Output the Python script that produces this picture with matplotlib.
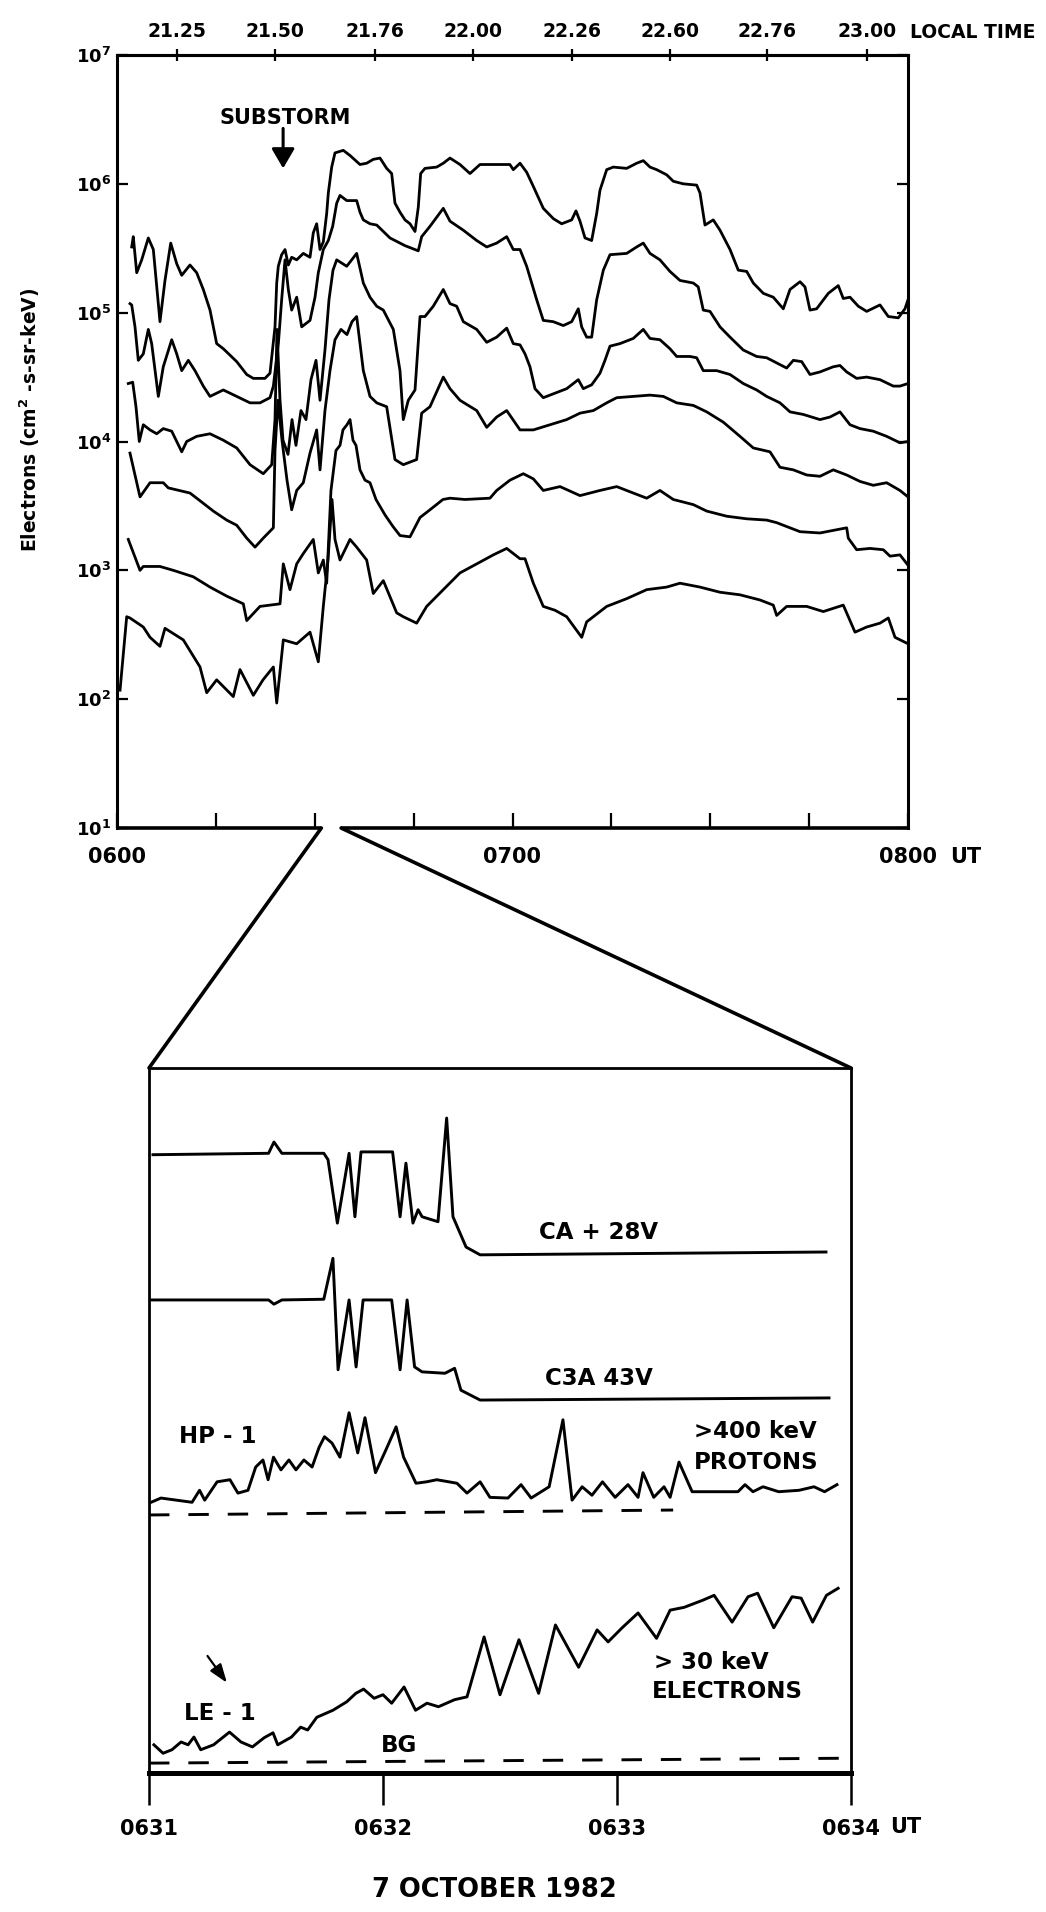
import matplotlib
matplotlib.use('Agg')
import matplotlib.pyplot as plt
import numpy as np
from matplotlib.patches import ConnectionPatch
from matplotlib.ticker import FixedLocator, NullLocator
import matplotlib.transforms as mtransforms

plt.rcParams['font.family'] = ['DejaVu Sans']
plt.rcParams['font.weight'] = 'bold'
plt.rcParams['mathtext.default'] = 'bf'

# ---------------- DATA : top panel (minutes after 0600 UT, log10 flux) ----------------
c1_t = [2.23,2.47,2.99,3.75,4.75,5.51,6.52,7.28,8.15,9.06,9.82,11.07,12.09,13.09,14.11,15.12,16.13,18.16,19.68,20.68,22.45,23.21,23.97,24.23,24.47,24.98,25.49,25.99,26.50,27.26,28.26,29.28,29.78,30.29,30.80,31.30,31.81,32.06,32.57,33.07,34.33,35.35,36.86,37.88,38.88,39.90,40.91,41.67,42.17,42.93,43.69,44.45,45.21,45.71,46.07,46.72,48.50,49.50,50.52,52.03,53.55,55.07,57.09,59.60,60.12,61.14,62.15,63.16,64.67,66.19,67.46,68.98,69.63,70.24,71.00,72.01,72.77,73.27,74.29,75.29,77.32,78.84,79.84,80.86,81.87,83.39,84.39,85.91,87.94,88.44,89.20,90.46,91.48,93.00,94.25,95.53,96.53,98.05,99.56,101.08,102.10,103.62,104.37,105.13,106.14,107.91,109.42,110.18,111.20,112.46,113.73,115.75,117.01,118.53,119.54,120.0]
c1_L = [5.51,5.59,5.31,5.41,5.58,5.49,4.93,5.25,5.54,5.38,5.29,5.37,5.31,5.18,5.02,4.76,4.72,4.62,4.52,4.49,4.49,4.53,4.89,5.23,5.36,5.45,5.49,5.37,5.43,5.41,5.46,5.43,5.62,5.69,5.49,5.55,5.77,5.93,6.13,6.24,6.26,6.22,6.15,6.16,6.19,6.20,6.12,6.08,5.85,5.78,5.72,5.69,5.63,5.82,6.08,6.12,6.13,6.16,6.20,6.15,6.08,6.15,6.15,6.15,6.11,6.16,6.09,5.98,5.81,5.73,5.69,5.72,5.79,5.71,5.58,5.56,5.77,5.95,6.11,6.13,6.12,6.16,6.18,6.13,6.11,6.07,6.02,6.00,5.99,5.93,5.68,5.72,5.64,5.49,5.33,5.32,5.23,5.15,5.12,5.03,5.18,5.24,5.20,5.02,5.03,5.15,5.21,5.11,5.12,5.05,5.01,5.06,4.97,4.96,5.03,5.10]

c2_t = [1.97,2.23,2.73,3.23,3.99,4.75,5.26,6.27,7.02,8.30,9.06,9.82,10.82,11.83,13.09,14.11,16.13,18.16,20.18,21.69,23.21,23.72,24.48,24.98,25.49,25.99,26.50,27.26,28.02,29.28,30.04,30.54,31.30,32.06,32.72,33.33,33.83,34.85,36.36,36.86,37.37,38.38,39.40,41.41,43.7,45.7,46.22,47.48,49.50,50.52,52.54,54.57,56.09,57.60,59.12,60.12,61.14,62.15,62.91,63.67,64.67,66.19,67.71,68.98,69.98,70.49,71.25,72.01,72.77,73.78,74.79,77.32,78.84,79.84,80.86,82.37,83.89,85.41,87.43,88.18,88.94,89.96,91.48,93.00,95.01,97.04,98.56,100.08,101.59,102.60,103.87,105.13,106.65,108.66,109.68,110.70,112.21,113.73,115.75,117.77,118.78,120.0]
c2_L = [5.07,5.06,4.89,4.63,4.68,4.87,4.76,4.35,4.58,4.79,4.68,4.55,4.63,4.55,4.43,4.35,4.40,4.35,4.30,4.30,4.34,4.43,4.76,5.10,5.41,5.18,5.02,5.12,4.89,4.94,5.12,5.31,5.49,5.56,5.67,5.85,5.91,5.87,5.87,5.78,5.72,5.69,5.68,5.58,5.52,5.48,5.59,5.67,5.81,5.71,5.64,5.56,5.51,5.54,5.59,5.49,5.49,5.36,5.23,5.10,4.94,4.93,4.90,4.93,5.03,4.89,4.81,4.81,5.10,5.33,5.45,5.46,5.51,5.54,5.46,5.41,5.32,5.25,5.23,5.20,5.02,5.01,4.89,4.81,4.71,4.66,4.65,4.61,4.57,4.63,4.62,4.52,4.54,4.58,4.59,4.54,4.49,4.50,4.48,4.43,4.43,4.45]

c3_t = [1.71,2.38,2.88,3.38,3.99,5.01,6.02,7.02,8.30,9.82,10.57,12.09,14.11,16.13,18.16,20.18,22.19,23.47,23.97,24.27,24.73,25.18,25.94,26.55,27.15,27.91,28.67,29.43,30.19,30.80,31.55,32.16,32.77,33.33,34.85,36.36,37.37,38.38,39.40,40.40,41.92,42.93,43.43,44.19,45.21,45.97,46.72,47.98,49.50,50.52,51.53,52.54,54.57,56.09,57.60,59.12,60.12,61.14,61.90,62.65,63.41,64.67,66.19,68.22,69.98,70.74,72.01,73.27,74.03,74.79,76.31,78.32,79.84,80.86,82.37,83.89,84.91,86.93,87.94,88.94,90.98,93.00,95.01,97.04,98.56,100.58,102.10,104.11,106.65,108.16,109.68,111.20,112.72,114.73,116.76,118.78,120.0]
c3_L = [4.45,4.46,4.27,4.00,4.13,4.09,4.06,4.10,4.08,3.92,4.00,4.04,4.06,4.01,3.95,3.82,3.75,3.82,4.17,4.87,4.32,4.01,3.90,4.17,3.97,4.24,4.17,4.48,4.63,4.32,4.71,5.10,5.33,5.41,5.36,5.46,5.23,5.12,5.05,5.02,4.87,4.55,4.17,4.32,4.40,4.97,4.97,5.05,5.18,5.07,5.05,4.93,4.87,4.77,4.81,4.88,4.76,4.75,4.68,4.58,4.41,4.34,4.37,4.41,4.48,4.41,4.44,4.53,4.63,4.74,4.76,4.80,4.87,4.80,4.79,4.72,4.66,4.66,4.65,4.55,4.55,4.52,4.45,4.40,4.35,4.30,4.23,4.21,4.17,4.19,4.23,4.13,4.10,4.08,4.04,3.99,4.00]

c4_t = [1.97,3.49,5.01,7.02,7.78,11.07,12.09,14.61,16.64,18.16,19.68,20.94,22.19,23.72,23.97,24.42,25.03,25.79,26.50,27.26,28.26,29.28,30.29,30.80,31.55,32.31,33.07,33.98,34.89,35.65,36.36,37.37,38.38,39.40,40.91,42.17,43.43,45.46,46.22,47.48,49.50,50.52,52.03,54.57,56.09,57.60,59.12,61.14,63.16,65.69,68.22,70.24,72.26,74.29,75.81,78.32,80.86,82.88,84.91,87.43,89.46,91.98,94.51,96.53,99.06,100.58,102.60,104.63,106.65,108.66,110.70,112.72,114.73,116.76,118.78,120.0]
c4_L = [3.91,3.57,3.68,3.68,3.64,3.60,3.56,3.46,3.39,3.35,3.25,3.18,3.25,3.33,3.93,4.32,4.01,3.70,3.47,3.62,3.68,3.91,4.09,3.78,4.24,4.55,4.79,4.87,4.83,4.93,4.97,4.55,4.35,4.30,4.27,3.86,3.82,3.86,4.22,4.27,4.50,4.41,4.32,4.24,4.11,4.19,4.24,4.09,4.09,4.13,4.17,4.22,4.24,4.30,4.34,4.35,4.36,4.35,4.30,4.28,4.23,4.15,4.04,3.95,3.92,3.80,3.78,3.74,3.73,3.78,3.74,3.69,3.66,3.68,3.62,3.57]

c5_t = [1.71,3.49,3.99,6.52,8.54,11.57,14.11,16.64,19.16,19.68,21.69,24.73,25.23,26.24,27.26,28.26,29.78,30.54,31.30,31.81,32.46,33.22,33.83,34.28,34.89,35.35,35.80,36.26,36.86,37.62,38.38,39.29,40.66,41.87,42.93,44.45,45.97,47.48,49.45,50.52,52.79,56.58,57.60,59.62,61.64,63.16,64.67,67.21,70.24,73.27,75.81,78.32,80.36,82.37,84.39,87.43,89.46,92.49,95.53,98.56,100.08,101.59,103.62,106.65,108.66,110.70,110.94,112.21,114.23,116.25,117.27,118.78,120.0]
c5_L = [3.24,3.00,3.03,3.03,3.00,2.95,2.87,2.80,2.74,2.61,2.72,2.74,3.05,2.85,3.05,3.13,3.24,2.98,3.08,2.90,3.62,3.93,3.97,4.09,4.13,4.17,4.01,3.97,3.78,3.70,3.68,3.55,3.43,3.34,3.27,3.26,3.41,3.47,3.55,3.56,3.55,3.56,3.62,3.70,3.75,3.71,3.62,3.65,3.58,3.62,3.65,3.60,3.56,3.62,3.55,3.51,3.46,3.42,3.40,3.39,3.37,3.34,3.30,3.29,3.31,3.33,3.25,3.16,3.17,3.16,3.11,3.12,3.04]

c6_t = [0.46,1.47,1.97,3.99,5.01,6.52,7.28,10.06,12.59,13.61,15.12,17.64,18.66,20.68,22.15,23.72,24.23,25.23,27.26,29.28,30.54,31.30,32.01,32.62,33.07,33.83,35.35,36.36,37.88,38.88,40.40,42.43,43.43,45.46,46.98,49.50,52.03,54.57,57.09,59.12,61.14,61.90,63.16,64.67,66.45,68.22,70.50,71.25,74.29,77.32,80.36,83.39,85.41,88.44,91.48,94.51,97.54,99.56,100.08,101.59,104.63,107.15,110.18,111.20,111.96,113.73,115.75,117.01,118.03,120.0]
c6_L = [2.07,2.64,2.63,2.56,2.48,2.41,2.55,2.46,2.25,2.05,2.15,2.02,2.23,2.03,2.15,2.25,1.97,2.46,2.43,2.52,2.29,2.72,3.08,3.55,3.24,3.08,3.24,3.18,3.08,2.82,2.92,2.67,2.64,2.59,2.72,2.85,2.98,3.05,3.12,3.17,3.09,3.09,2.90,2.72,2.69,2.64,2.48,2.60,2.72,2.78,2.85,2.87,2.90,2.87,2.83,2.81,2.77,2.73,2.65,2.72,2.72,2.68,2.73,2.61,2.52,2.56,2.59,2.63,2.48,2.43]

ut_major = [0, 60, 120]
ut_major_labels = ['0600', '0700', '0800']
ut_minor = [15, 30, 45, 75, 90, 105]
decades = [1, 2, 3, 4, 5, 6, 7]
lt_ticks_ut_min = [9.1, 24.0, 39.1, 54.0, 69.0, 83.9, 98.6, 113.8]
lt_labels = ['21.25', '21.50', '21.76', '22.00', '22.26', '22.60', '22.76', '23.00']
zoom_window = [31.0, 34.0]      # minutes after 0600 shown in the lower panel
substorm_t = 25.2

# ---------------- DATA : lower panel (minutes after 0631 UT, relative counts) ----------------
ca_t = [0.017,0.511,0.534,0.568,0.747,0.765,0.805,0.855,0.880,0.906,1.041,1.073,1.098,1.128,1.150,1.167,1.235,1.272,1.299,1.355,1.415,2.893]
ca_v = [87.7,87.9,89.5,87.9,87.9,87.0,78.0,87.9,78.9,88.1,88.1,78.9,86.5,78.0,79.9,78.9,78.2,92.9,78.9,74.6,73.5,73.9]

c3a_t = [0.0,0.511,0.534,0.568,0.747,0.786,0.808,0.855,0.885,0.915,1.037,1.073,1.103,1.135,1.167,1.265,1.306,1.333,1.415,2.906]
c3a_v = [67.1,67.1,66.5,67.1,67.2,73.0,57.2,67.1,57.6,67.1,67.1,57.2,67.1,57.6,56.9,56.7,57.4,54.3,52.9,53.2]

hp_t = [0.009,0.051,0.184,0.216,0.238,0.291,0.346,0.380,0.423,0.456,0.487,0.509,0.532,0.564,0.598,0.628,0.662,0.697,0.727,0.750,0.782,0.816,0.855,0.892,0.923,0.968,1.012,1.056,1.088,1.141,1.186,1.230,1.316,1.359,1.415,1.457,1.534,1.590,1.633,1.710,1.769,1.808,1.851,1.893,1.938,1.992,2.047,2.090,2.111,2.157,2.201,2.227,2.265,2.321,2.517,2.547,2.581,2.624,2.691,2.778,2.842,2.887,2.940]
hp_v = [38.4,39.0,38.4,40.1,38.7,41.3,41.6,39.7,40.1,43.4,44.4,41.6,44.8,43.0,44.4,43.0,44.4,43.4,46.2,47.7,46.8,44.8,51.1,45.4,50.4,42.6,45.8,49.1,44.8,41.1,41.3,41.6,41.1,39.7,41.3,39.1,39.0,40.9,39.0,40.6,50.1,38.7,40.6,39.4,41.3,39.1,40.9,39.1,42.6,39.1,40.6,39.1,44.1,39.9,39.9,40.9,39.9,40.6,39.9,40.1,40.6,39.9,40.9]
hp_bg_t = [0.0, 2.24]
hp_bg_v = [36.6, 37.3]

le_t = [0.021,0.060,0.098,0.137,0.167,0.192,0.221,0.276,0.344,0.393,0.442,0.492,0.530,0.550,0.609,0.648,0.678,0.717,0.786,0.845,0.884,0.917,0.962,1.000,1.037,1.090,1.139,1.188,1.237,1.306,1.359,1.432,1.500,1.581,1.665,1.737,1.836,1.915,1.962,2.022,2.090,2.169,2.227,2.287,2.366,2.415,2.492,2.560,2.601,2.670,2.748,2.787,2.836,2.895,2.945]
le_v = [4.0,2.8,3.3,4.4,4.0,5.1,3.3,4.0,5.8,4.4,3.7,5.0,5.7,4.0,5.1,6.5,6.1,7.9,8.9,10.1,11.3,11.9,10.6,11.1,9.9,12.2,8.9,9.9,9.4,10.4,10.8,19.3,11.1,18.9,11.3,21.0,15.0,20.3,18.6,20.6,22.7,19.1,23.1,23.5,24.5,25.2,21.4,25.0,25.5,20.6,25.0,24.8,21.4,25.2,26.2]
le_bg_t = [0.0, 3.0]
le_bg_v = [1.4, 2.1]

low_ticks = [0, 1, 2, 3]
low_tick_labels = ['0631', '0632', '0633', '0634']

# ---------------- FIGURE ----------------
fig = plt.figure(figsize=(10.46, 19.12), dpi=100)
fig.patch.set_facecolor('white')

# ---- top panel ----
ax1 = fig.add_axes([117/1046, 1-828/1912, 791/1046, 773/1912])
top_series = [(c1_t, c1_L), (c2_t, c2_L), (c3_t, c3_L), (c4_t, c4_L), (c5_t, c5_L), (c6_t, c6_L)]
for t, L in top_series:
    assert len(t) == len(L)
    ax1.plot(t, 10 ** np.asarray(L), color='k', lw=2.0, solid_joinstyle='round')
ax1.set_yscale('log')
ax1.set_xlim(0, 120)
ax1.set_ylim(10 ** decades[0], 10 ** decades[-1])
ax1.yaxis.set_major_locator(FixedLocator([10 ** k for k in decades]))
ax1.yaxis.set_minor_locator(NullLocator())
ax1.set_yticklabels([r'$10^{%d}$' % k for k in decades])
ax1.tick_params(axis='y', which='major', direction='in', length=8, width=1.6,
                left=True, right=True, labelsize=13, pad=4)
ax1.xaxis.set_major_locator(FixedLocator(ut_major))
ax1.set_xticklabels(ut_major_labels)
ax1.xaxis.set_minor_locator(FixedLocator(ut_minor))
ax1.tick_params(axis='x', which='both', direction='in', length=11, width=1.6,
                top=False, labelsize=15, pad=14)
for s in ['left', 'right', 'top']:
    ax1.spines[s].set_linewidth(2.2)
ax1.spines['bottom'].set_visible(False)
# bottom frame with the notch where the zoom lines leave
ax1.plot([0, zoom_window[0]], [10, 10], color='k', lw=2.6, clip_on=False, solid_capstyle='butt')
ax1.plot([zoom_window[1], 120], [10, 10], color='k', lw=2.6, clip_on=False, solid_capstyle='butt')

tr1 = mtransforms.blended_transform_factory(ax1.transData, ax1.transAxes)
ax1.text(126.4, -0.0375, 'UT', transform=tr1, ha='left', va='center', fontsize=15)

sec = ax1.secondary_xaxis('top')
sec.set_xticks(lt_ticks_ut_min)
sec.set_xticklabels(lt_labels)
sec.tick_params(direction='inout', length=8, width=1.6, labelsize=13.5, pad=6)
sec.spines['top'].set_linewidth(2.2)
ax1.text(1.0025, 1.0285, 'LOCAL TIME', transform=ax1.transAxes, ha='left', va='center',
         fontsize=13.5, clip_on=False)

fig.text(30/1046, 1-420/1912, r'Electrons (cm$^{2}$ -s-sr-keV)', rotation=90,
         ha='center', va='center', fontsize=13.5)

ax1.text(substorm_t + 0.3, 10 ** 6.51, 'SUBSTORM', ha='center', va='center', fontsize=15)
ax1.annotate('', xy=(substorm_t, 10 ** 6.12), xytext=(substorm_t, 10 ** 6.43),
             arrowprops=dict(arrowstyle='-|>,head_width=0.35,head_length=0.6', mutation_scale=20,
                             color='k', lw=2.2, shrinkA=0, shrinkB=0))

# ---- lower panel ----
ax2 = fig.add_axes([149/1046, 1-1773/1912, 702/1046, 705/1912])
ax2.set_xlim(low_ticks[0], low_ticks[-1])
ax2.set_ylim(0, 100)
for t, v in [(ca_t, ca_v), (c3a_t, c3a_v), (hp_t, hp_v), (le_t, le_v)]:
    assert len(t) == len(v)
    ax2.plot(t, v, color='k', lw=2.1, solid_joinstyle='round')
ax2.plot(hp_bg_t, hp_bg_v, color='k', lw=2.1, ls=(0, (7, 6.5)))
ax2.plot(le_bg_t, le_bg_v, color='k', lw=2.1, ls=(0, (7, 6.5)))
ax2.set_xticks(low_ticks)
ax2.set_xticklabels(low_tick_labels)
ax2.set_yticks([])
ax2.tick_params(axis='x', direction='out', length=23, width=1.8, labelsize=15, pad=10)
for s in ['left', 'right', 'top']:
    ax2.spines[s].set_linewidth(2.0)
ax2.spines['bottom'].set_linewidth(3.6)
tr2 = mtransforms.blended_transform_factory(ax2.transData, ax2.transAxes)
ax2.text(3.167, -0.0766, 'UT', transform=tr2, ha='left', va='center', fontsize=15)

ax2.text(1.923, 76.7, 'CA + 28V', ha='center', va='center', fontsize=16.5)
ax2.text(1.923, 56.0, 'C3A 43V', ha='center', va='center', fontsize=16.5)
ax2.text(0.295, 47.7, 'HP - 1', ha='center', va='center', fontsize=16.5)
ax2.text(2.33, 48.4, '>400 keV', ha='left', va='center', fontsize=16.5)
ax2.text(2.33, 44.1, 'PROTONS', ha='left', va='center', fontsize=16.5)
ax2.text(2.158, 15.7, '> 30 keV', ha='left', va='center', fontsize=16.5)
ax2.text(2.150, 11.5, 'ELECTRONS', ha='left', va='center', fontsize=16.5)
ax2.text(0.303, 8.5, 'LE - 1', ha='center', va='center', fontsize=16.5)
ax2.text(1.07, 3.9, 'BG', ha='center', va='center', fontsize=16.5)
ax2.annotate('', xy=(0.333, 12.8), xytext=(0.250, 16.6),
             arrowprops=dict(arrowstyle='-|>,head_width=0.25,head_length=0.7', mutation_scale=16,
                             color='k', lw=1.6, shrinkA=0, shrinkB=0))

# ---- zoom connector lines ----
for xa, xb in [(zoom_window[0], low_ticks[0]), (zoom_window[1], low_ticks[-1])]:
    con = ConnectionPatch(xyA=(xa, 10), coordsA=ax1.transData,
                          xyB=(xb, 100), coordsB=ax2.transData,
                          color='k', lw=2.6)
    fig.add_artist(con)

fig.text(494/1046, 1-1890/1912, '7 OCTOBER 1982', ha='center', va='center', fontsize=18.5)

fig.savefig('out.png', dpi=100, facecolor='white')
